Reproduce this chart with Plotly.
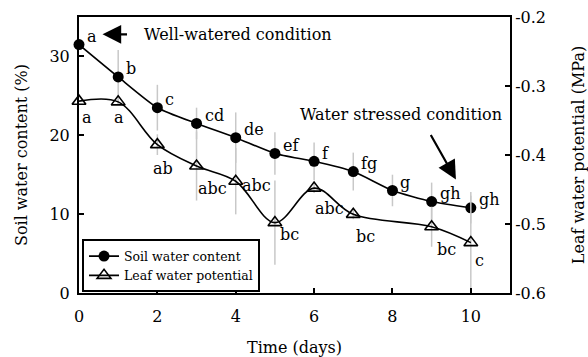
import plotly.graph_objects as go

# ---- data ----
days_soil = [0, 1, 2, 3, 4, 5, 6, 7, 8, 9, 10]
soil_water = [31.5, 27.4, 23.5, 21.5, 19.7, 17.7, 16.7, 15.4, 13.0, 11.6, 10.8]
soil_err = [0.0, 3.4, 2.9, 2.0, 3.2, 2.7, 2.4, 2.4, 2.0, 2.4, 2.0]
soil_letters = ["a", "b", "c", "cd", "de", "ef", "f", "fg", "g", "gh", "gh"]

days_leaf = [0, 1, 2, 3, 4, 5, 6, 7, 9, 10]
leaf_potential = [-0.322, -0.323, -0.385, -0.416, -0.438, -0.498, -0.448, -0.486, -0.504, -0.527]
leaf_err = [0.0, 0.004, 0.015, 0.05, 0.048, 0.061, 0.007, 0.007, 0.029, 0.068]
leaf_letters = ["a", "a", "ab", "abc", "abc", "bc", "abc", "bc", "bc", "c"]

# label placement offsets (px) for leaf letters
leaf_label_offsets = [(8, -16), (1, -16), (6, -24), (16, -22), (21, -4),
                      (15, -12), (15, -20), (12, -22), (15, -23), (9, -18)]

FONT = "DejaVu Serif"
ERR_COLOR = "#c8c8c8"

fig = go.Figure()

# error bars (drawn first, behind)
fig.add_trace(go.Scatter(
    x=days_soil, y=soil_water, mode="markers",
    marker=dict(size=1, opacity=0), showlegend=False, hoverinfo="skip",
    error_y=dict(type="data", array=soil_err, visible=True, color=ERR_COLOR,
                 thickness=1.5, width=0),
    cliponaxis=False, yaxis="y"))
fig.add_trace(go.Scatter(
    x=days_leaf, y=leaf_potential, mode="markers",
    marker=dict(size=1, opacity=0), showlegend=False, hoverinfo="skip",
    error_y=dict(type="data", array=leaf_err, visible=True, color=ERR_COLOR,
                 thickness=1.5, width=0),
    cliponaxis=False, yaxis="y2"))

fig.add_trace(go.Scatter(
    x=days_soil, y=soil_water, mode="lines+markers", name="Soil water content",
    line=dict(color="black", width=1.6, shape="spline", smoothing=0.6),
    marker=dict(symbol="circle", size=11, color="black"),
    cliponaxis=False, yaxis="y"))
fig.add_trace(go.Scatter(
    x=days_leaf, y=leaf_potential, mode="lines+markers", name="Leaf water potential",
    line=dict(color="black", width=1.6, shape="spline", smoothing=1),
    marker=dict(symbol="triangle-up-open", size=12, color="black",
                line=dict(width=1.6, color="black")),
    cliponaxis=False, yaxis="y2"))

annotations = []
for xv, yv, t in zip(days_soil, soil_water, soil_letters):
    annotations.append(dict(x=xv, y=yv, xref="x", yref="y", text=t, showarrow=False,
                            xanchor="left", yanchor="middle", xshift=6, yshift=8,
                            font=dict(family=FONT, size=16, color="black")))
for xv, yv, t, (dx, dy) in zip(days_leaf, leaf_potential, leaf_letters, leaf_label_offsets):
    annotations.append(dict(x=xv, y=yv, xref="x", yref="y2", text=t, showarrow=False,
                            xanchor="center", yanchor="middle", xshift=dx, yshift=dy,
                            font=dict(family=FONT, size=16, color="black")))

# condition labels and arrows
annotations.append(dict(x=1.62, y=32.8, xref="x", yref="y", text="Well-watered condition",
                        showarrow=False, xanchor="left", yanchor="middle",
                        font=dict(family=FONT, size=16, color="black")))
annotations.append(dict(x=0.6, y=32.8, xref="x", yref="y", text="",
                        showarrow=True, ax=26, ay=0, axref="pixel", ayref="pixel",
                        arrowhead=2, arrowsize=1.7, arrowwidth=2.2, arrowcolor="black"))
annotations.append(dict(x=10.84, y=22.6, xref="x", yref="y", text="Water stressed condition",
                        showarrow=False, xanchor="right", yanchor="middle",
                        font=dict(family=FONT, size=16, color="black")))
annotations.append(dict(x=9.62, y=14.4, xref="x", yref="y", text="",
                        showarrow=True, ax=-26, ay=-46,
                        arrowhead=2, arrowsize=1.7, arrowwidth=2.2, arrowcolor="black"))

fig.update_layout(
    width=588, height=357,
    margin=dict(l=79, r=78, t=17, b=64, autoexpand=False),
    paper_bgcolor="white", plot_bgcolor="white",
    font=dict(family=FONT, size=16, color="black"),
    showlegend=True,
    legend=dict(x=0.007, y=0.194, xanchor="left", yanchor="top",
                bgcolor="white", bordercolor="black", borderwidth=2,
                font=dict(family=FONT, size=12.5, color="black"),
                tracegroupgap=0),
    xaxis=dict(range=[0, 11], tickvals=[0, 2, 4, 6, 8, 10], automargin=False,
               ticks="inside", ticklen=5, tickwidth=1.5, tickcolor="black",
               showline=True, linecolor="black", linewidth=2, mirror=True,
               showgrid=False, zeroline=False, ticklabelstandoff=8,
               title=dict(text="Time (days)", font=dict(family=FONT, size=16), standoff=20),
               tickfont=dict(family=FONT, size=16)),
    yaxis=dict(range=[0, 35], tickvals=[0, 10, 20, 30], automargin=False,
               ticks="inside", ticklen=5, tickwidth=1.5, tickcolor="black",
               showline=True, linecolor="black", linewidth=2, mirror=True,
               showgrid=False, zeroline=False, ticklabelstandoff=4,
               title=dict(text="Soil water content (%)", font=dict(family=FONT, size=16), standoff=18),
               tickfont=dict(family=FONT, size=16)),
    yaxis2=dict(range=[-0.6, -0.2], tickvals=[-0.6, -0.5, -0.4, -0.3, -0.2],
                ticktext=["-0.6", "-0.5", "-0.4", "-0.3", "-0.2"], automargin=False,
                overlaying="y", side="right", anchor="x",
                ticks="inside", ticklen=5, tickwidth=1.5, tickcolor="black",
                showline=True, linecolor="black", linewidth=2,
                showgrid=False, zeroline=False, ticklabelstandoff=0,
                title=dict(text="Leaf water potential (MPa)", font=dict(family=FONT, size=16), standoff=28),
                tickfont=dict(family=FONT, size=16)),
    annotations=annotations,
)

fig.write_html("out.html", config={"displayModeBar": False},
               post_script="document.body.style.margin='0';")
